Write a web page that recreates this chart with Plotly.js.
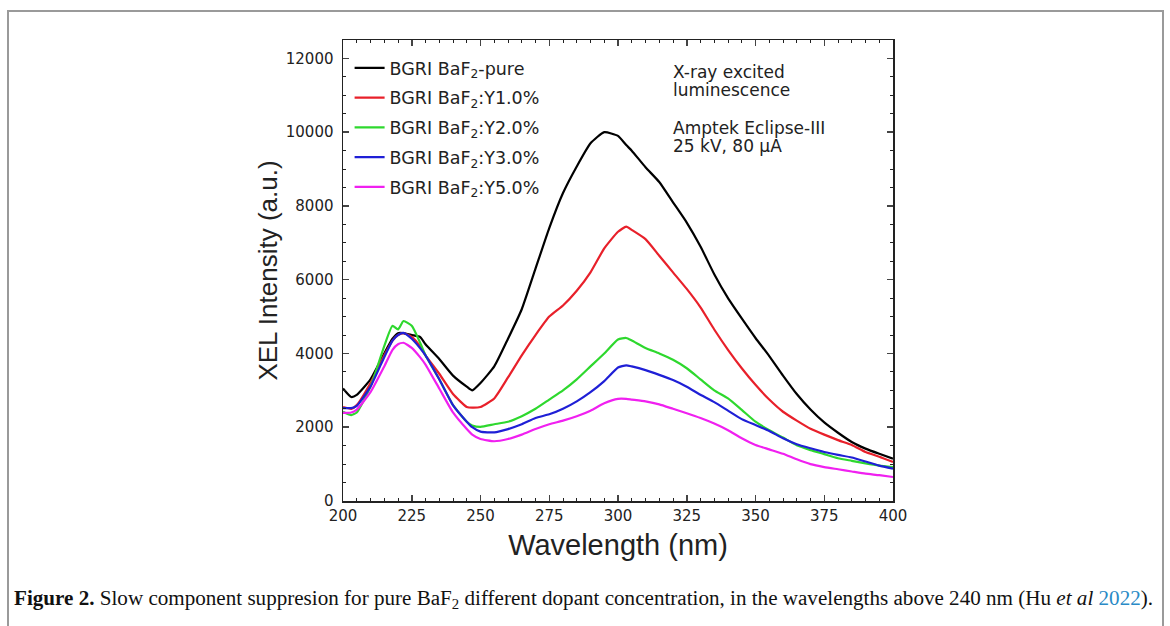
<!DOCTYPE html>
<html>
<head>
<meta charset="utf-8">
<script src="https://cdn.plot.ly/plotly-3.0.1.min.js"></script>
<style>
html,body{margin:0;padding:0;background:#fff;}
#chart{width:1170px;height:626px;}
</style>
</head>
<body>
<div id="chart"></div>
<script>
const wavelength = [200,203,205,210,215,218,220,222,225,228,230,235,240,245,247,250,255,260,265,270,275,280,285,290,295,300,303,305,310,315,320,325,330,335,340,345,350,355,360,365,370,375,380,385,390,395,400];

const purePct0 = [3050,2820,2880,3300,4000,4400,4550,4550,4500,4450,4250,3850,3400,3100,3000,3200,3650,4400,5200,6300,7400,8350,9070,9700,10000,9900,9650,9500,9050,8650,8100,7550,6900,6150,5500,4950,4420,3930,3400,2900,2480,2130,1850,1600,1420,1280,1150];

const y1Pct = [2550,2500,2600,3200,3950,4350,4500,4550,4450,4200,3950,3450,2900,2550,2530,2550,2780,3350,3950,4500,5000,5300,5700,6200,6850,7300,7440,7350,7100,6650,6200,5750,5250,4650,4100,3600,3150,2750,2420,2180,1960,1800,1650,1520,1330,1200,1060];

const y2Pct = [2420,2330,2400,3100,4200,4750,4650,4880,4750,4300,3950,3300,2600,2150,2050,2010,2080,2150,2300,2500,2750,3000,3300,3650,4000,4380,4420,4350,4150,4000,3830,3600,3300,3000,2780,2470,2150,1920,1720,1510,1380,1270,1160,1090,1020,960,920];

const y3Pct = [2520,2520,2580,3100,3900,4350,4500,4560,4400,4150,3950,3300,2600,2150,2000,1880,1860,1950,2080,2250,2350,2500,2700,2950,3250,3620,3680,3650,3550,3420,3280,3100,2880,2680,2450,2220,2060,1900,1700,1540,1430,1330,1250,1180,1070,960,880];

const y5Pct = [2390,2400,2480,2950,3650,4100,4250,4290,4150,3900,3700,3050,2400,1950,1800,1680,1620,1680,1800,1950,2080,2180,2300,2450,2650,2770,2770,2750,2700,2620,2500,2380,2250,2100,1920,1700,1520,1400,1280,1130,1000,920,860,800,740,700,650];

const seriesNames = ["BGRI BaF<sub>2</sub>-pure","BGRI BaF<sub>2</sub>:Y1.0%","BGRI BaF<sub>2</sub>:Y2.0%","BGRI BaF<sub>2</sub>:Y3.0%","BGRI BaF<sub>2</sub>:Y5.0%"];
const seriesColors = ["#000000","#e8202a","#2ed82e","#1f1fd6","#f020f0"];
const seriesValues = [purePct0, y1Pct, y2Pct, y3Pct, y5Pct];

const xTickVals = [200,225,250,275,300,325,350,375,400];
const yTickVals = [0,2000,4000,6000,8000,10000,12000];

const infoLines = ["X-ray excited","luminescence","Amptek Eclipse-III","25 kV, 80 µA"];

const traces = seriesValues.map((vals,i)=>({
  x: wavelength, y: vals, type:'scatter', mode:'lines',
  name: seriesNames[i], legendgroup:'g'+i,
  line:{color: seriesColors[i], width:2.2, shape:'spline', smoothing:0.5}
}));

// pixel helpers for placing non-data elements in paper coords
const L=343, R=893, T=40, B=501;
const px = v => (v-L)/(R-L);
const py = v => (B-v)/(B-T);

const SANS = '"DejaVu Sans", Verdana, sans-serif';
const ARIAL = '"Liberation Sans", Arial, sans-serif';

const infoY = [72, 90, 128, 146];
const annotations = infoLines.map((t,i)=>({
  xref:'paper', yref:'paper', x:px(671), y:py(infoY[i]), xanchor:'left', yanchor:'middle',
  align:'left', showarrow:false, text:t, font:{size:17, family:SANS, color:'#222'}
}));
annotations.push({xref:'paper', yref:'paper', x:px(12), y:py(599), xanchor:'left', yanchor:'middle', align:'left', showarrow:false,
  text:'<b>Figure 2.</b> Slow component suppresion for pure BaF<sub>2</sub> different dopant concentration, in the wavelengths above 240 nm (Hu <i>et al</i> <span style="color:#2a8ac6">2022</span>).',
  font:{size:21.1, family:'"Liberation Serif", "Times New Roman", serif', color:'#111'}});

const layout = {
  width:1170, height:626,
  margin:{l:L, r:1170-R, t:T, b:626-B},
  paper_bgcolor:'#fff', plot_bgcolor:'#fff',
  font:{family:SANS, color:'#222'},
  showlegend:true,
  legend:{x:0.012, y:py(50), xanchor:'left', yanchor:'top', bgcolor:'rgba(0,0,0,0)',
          font:{size:17.5, family:SANS, color:'#222'}, itemwidth:30, tracegroupgap:4},
  xaxis:{range:[200,400], tickvals:xTickVals, ticks:'inside', ticklen:6, tickwidth:1.5,
         showline:true, linewidth:1.5, linecolor:'#222', mirror:'ticks', showgrid:false, zeroline:false,
         tickfont:{size:15, family:SANS, color:'#222'},
         minor:{dtick:5, ticks:'inside', ticklen:3, tickwidth:1, tickcolor:'#222', showgrid:false},
         title:{text:'Wavelength (nm)', font:{size:29, family:ARIAL, color:'#222'}, standoff:11}},
  yaxis:{range:[0,12500], tickvals:yTickVals, tickformat:'d', ticks:'inside', ticklen:6, tickwidth:1.5,
         ticklabelstandoff:5,
         showline:true, linewidth:1.5, linecolor:'#222', mirror:'ticks', showgrid:false, zeroline:false,
         tickfont:{size:15, family:SANS, color:'#222'},
         minor:{dtick:500, ticks:'inside', ticklen:3, tickwidth:1, tickcolor:'#222', showgrid:false},
         title:{text:'XEL Intensity (a.u.)', font:{size:26, family:ARIAL, color:'#222'}, standoff:0}},
  annotations: annotations,
  shapes:[
    {type:'rect', xref:'paper', yref:'paper', x0:px(8), x1:px(1163), y0:py(660), y1:py(11),
     line:{color:'#9a9a9a', width:2}, fillcolor:'rgba(0,0,0,0)', layer:'below'}
  ]
};

Plotly.newPlot('chart', traces, layout, {staticPlot:true, displayModeBar:false});
</script>
</body>
</html>
